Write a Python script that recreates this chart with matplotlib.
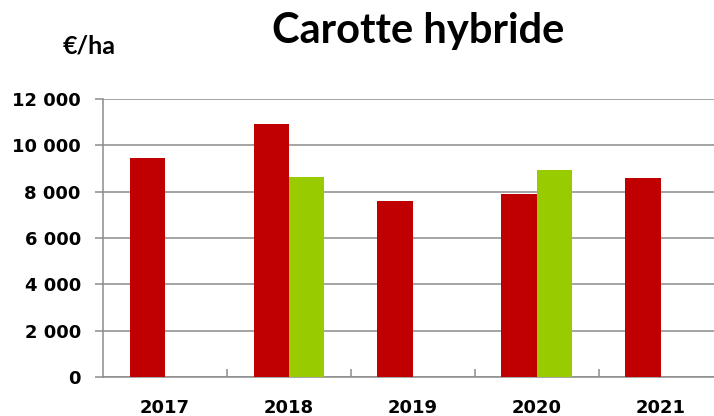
import numpy as np
import matplotlib.pyplot as plt
from matplotlib.ticker import FuncFormatter, FixedLocator

# data
years = ["2017", "2018", "2019", "2020", "2021"]
red_values = [9450, 10930, 7590, 7900, 8610]
green_values = [np.nan, 8620, np.nan, 8940, np.nan]

red = "#C00000"
green = "#99CC00"
grid_col = "#8C8C8C"

fig = plt.figure(figsize=(7.14, 4.16), dpi=100)
ax = fig.add_axes([0.1443, 0.0938, 0.868, 0.668])

x = np.arange(len(years))
w = 0.286
ax.bar(x - w / 2, red_values, width=w, color=red, zorder=3)
ax.bar(x + w / 2, green_values, width=w, color=green, zorder=3)

ax.set_xlim(-0.5, len(years) - 0.5)
ax.set_ylim(0, 12000)
ax.set_yticks(range(0, 12001, 2000))
ax.yaxis.set_major_formatter(FuncFormatter(lambda v, p: f"{int(v):,}".replace(",", " ")))
ax.grid(axis="y", color=grid_col, linewidth=1.1, zorder=0)

# category boundaries as ticks, labels at centers
ax.xaxis.set_major_locator(FixedLocator(x[:-1] + 0.5))
ax.xaxis.set_minor_locator(FixedLocator(x))
ax.set_xticklabels([], minor=False)
ax.set_xticklabels(years, minor=True)
ax.tick_params(axis="x", which="major", direction="in", length=6, width=1.1, color=grid_col)
ax.tick_params(axis="x", which="minor", length=0, pad=16)
ax.tick_params(axis="y", length=6, width=1.1, color=grid_col, pad=10)

for lbl in ax.get_xticklabels(minor=True) + ax.get_yticklabels():
    lbl.set_fontweight("bold")
    lbl.set_fontsize(13)
    lbl.set_family("DejaVu Sans")

for s in ["top", "right"]:
    ax.spines[s].set_visible(False)
for s in ["left", "bottom"]:
    ax.spines[s].set_color(grid_col)
    ax.spines[s].set_linewidth(1.1)

fig.text(0.585, 0.925, "Carotte hybride", ha="center", va="center",
         fontsize=30, fontweight="bold", family="Lato")
fig.text(0.088, 0.89, "€/ha", ha="left", va="center",
         fontsize=18, fontweight="bold", family="Lato")

plt.savefig("out.png", dpi=100)
